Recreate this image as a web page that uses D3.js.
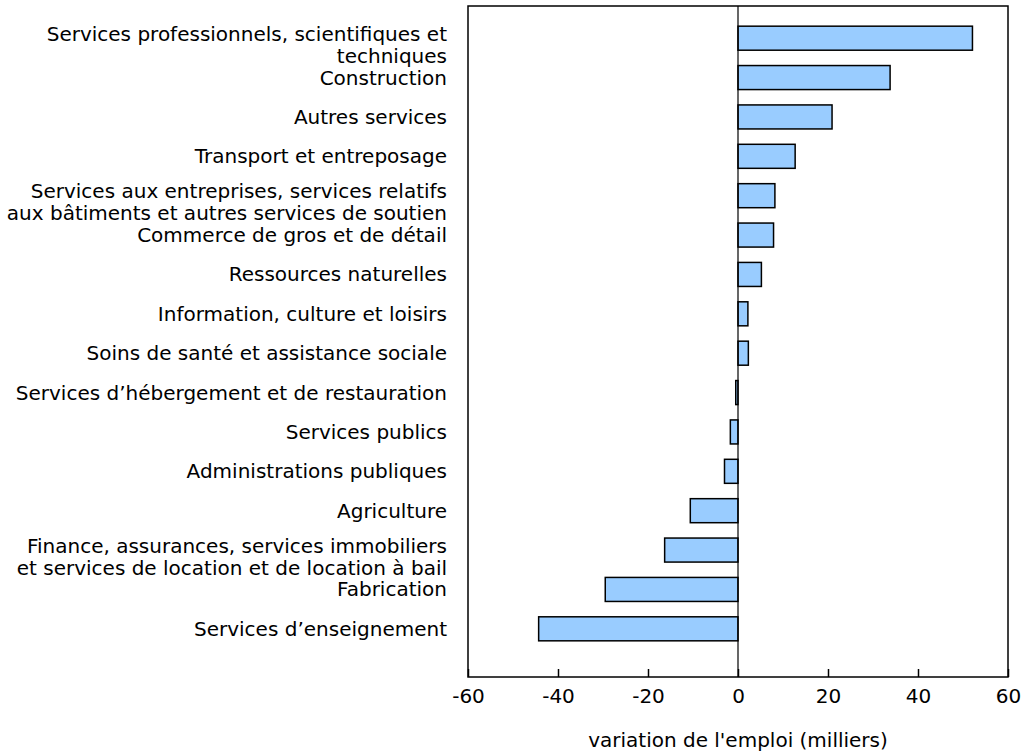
<!DOCTYPE html>
<html>
<head>
<meta charset="utf-8">
<script src="https://cdn.jsdelivr.net/npm/d3@7"></script>
<style>
  body { margin: 0; background: #fff; }
  svg text { font-family: "DejaVu Sans", Verdana, sans-serif; font-size: 20px; fill: #000; }
</style>
</head>
<body>
<svg id="canvas1" width="1022" height="751"></svg>
<script>
// Industries (line breaks as in the original labels)
var categories = [
    "Services professionnels, scientifiques et\ntechniques",
    "Construction",
    "Autres services",
    "Transport et entreposage",
    "Services aux entreprises, services relatifs\naux bâtiments et autres services de soutien",
    "Commerce de gros et de détail",
    "Ressources naturelles",
    "Information, culture et loisirs",
    "Soins de santé et assistance sociale",
    "Services d’hébergement et de restauration",
    "Services publics",
    "Administrations publiques",
    "Agriculture",
    "Finance, assurances, services immobiliers\net services de location et de location à bail",
    "Fabrication",
    "Services d’enseignement"
];

// Change in employment (thousands)
var values = [52.1, 33.8, 20.9, 12.7, 8.2, 7.9, 5.2, 2.2, 2.3, -0.5, -1.7, -3.0, -10.6, -16.3, -29.5, -44.3];

var xTicks = [-60, -40, -20, 0, 20, 40, 60];
var xTitle = "variation de l'emploi (milliers)";

var svg1 = d3.select("#canvas1");

var plot = {left: 468, right: 1008, top: 6, bottom: 677};

var x = d3.scaleLinear().domain([-60, 60]).range([plot.left, plot.right]);
var y = d3.scaleBand()
    .domain(categories)
    .range([18.5, 648.5])
    .paddingInner(0.39)
    .paddingOuter(0.195);

var data = categories.map(function(c, i) { return {cat: c, val: values[i]}; });

// Bars
svg1.append("g")
    .selectAll("rect")
    .data(data)
    .enter().append("rect")
    .attr("x", function(d) { return x(Math.min(0, d.val)); })
    .attr("y", function(d) { return y(d.cat); })
    .attr("width", function(d) { return Math.abs(x(d.val) - x(0)); })
    .attr("height", y.bandwidth())
    .style("fill", "#99ccff")
    .style("stroke", "#000")
    .style("stroke-width", 1.5);

// Zero line
svg1.append("line")
    .attr("x1", x(0)).attr("x2", x(0))
    .attr("y1", plot.top).attr("y2", plot.bottom)
    .style("stroke", "#000")
    .style("stroke-width", 1.2);

// Frame
svg1.append("rect")
    .attr("x", plot.left)
    .attr("y", plot.top)
    .attr("width", plot.right - plot.left)
    .attr("height", plot.bottom - plot.top)
    .style("fill", "none")
    .style("stroke", "#000")
    .style("stroke-width", 1.5);

// X axis, ticks pointing inward
var xAxis = d3.axisBottom(x)
    .tickValues(xTicks)
    .tickSizeInner(-8)
    .tickSizeOuter(0)
    .tickPadding(12)
    .tickFormat(function(d) { return String(d); });

var gx = svg1.append("g")
    .attr("transform", "translate(0," + plot.bottom + ")")
    .call(xAxis);
gx.select(".domain").remove();
gx.selectAll(".tick line").style("stroke", "#000").style("stroke-width", 1.5);
gx.selectAll(".tick text").style("font-size", "20px").style("font-family", "DejaVu Sans, Verdana, sans-serif");

svg1.append("text")
    .attr("x", x(0))
    .attr("y", 747)
    .style("text-anchor", "middle")
    .text(xTitle);

// Category labels
var labels = svg1.append("g")
    .selectAll("text")
    .data(categories)
    .enter().append("text")
    .attr("x", 447)
    .attr("y", function(d) { return y(d) + y.bandwidth() / 2; })
    .style("text-anchor", "end");

labels.each(function(d) {
    var lines = d.split("\n");
    var t = d3.select(this);
    lines.forEach(function(line, i) {
        t.append("tspan")
            .attr("x", 447)
            .attr("dy", i === 0 ? (lines.length > 1 ? "0.13em" : "0.35em") : "22px")
            .text(line);
    });
});
</script>
</body>
</html>
